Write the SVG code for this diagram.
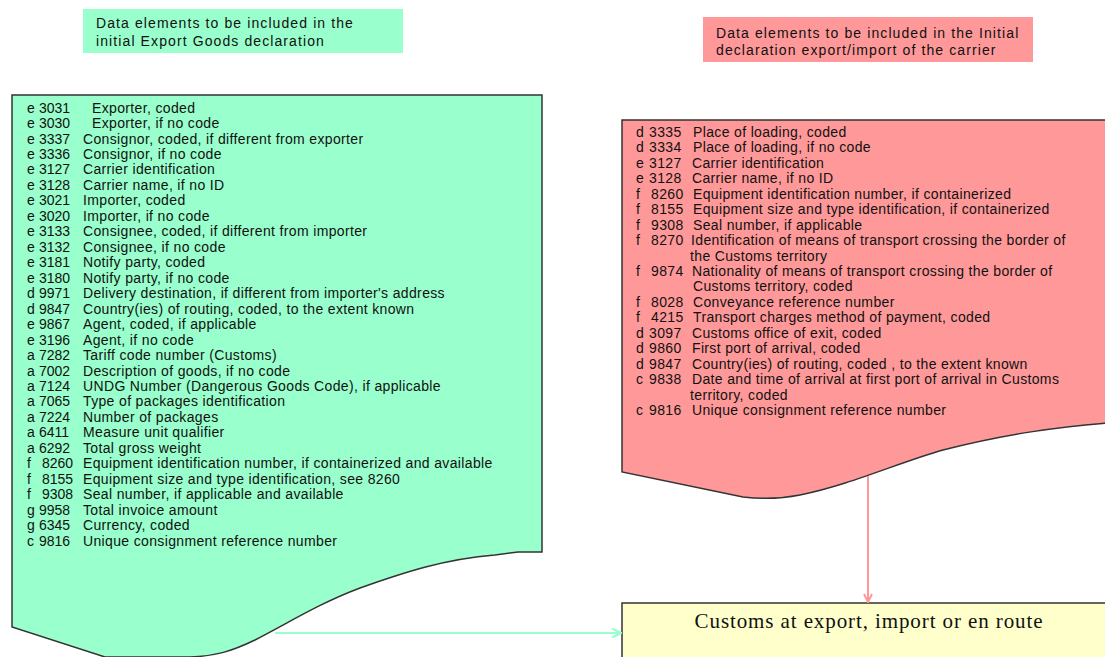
<svg xmlns="http://www.w3.org/2000/svg" width="1105" height="657" viewBox="0 0 1105 657">
  <style>
    .head { font-family: "Liberation Sans", Arial, sans-serif; font-size: 14px; letter-spacing: 1.1px; fill: #111; }
    .item { font-family: "Liberation Sans", Arial, sans-serif; font-size: 14px; letter-spacing: 0.35px; fill: #111; }
    .num { letter-spacing: 0; }
    .doc { stroke: #333; stroke-width: 1.5; }
    .green { fill: #99ffcc; }
    .pink { fill: #ff9999; }
    .title { font-family: "Liberation Serif", "Times New Roman", serif; font-size: 21px; letter-spacing: 0.9px; fill: #111; }
  </style>
  <defs>
    <marker id="headGreen" viewBox="0 0 10 10" refX="9" refY="5" markerWidth="11" markerHeight="11" markerUnits="userSpaceOnUse" orient="auto">
      <path d="M1,1 L9,5 L1,9" fill="none" stroke="#99ffcc" stroke-width="2"/>
    </marker>
    <marker id="headPink" viewBox="0 0 10 10" refX="9" refY="5" markerWidth="10" markerHeight="10" markerUnits="userSpaceOnUse" orient="auto">
      <path d="M1,1 L9,5 L1,9" fill="none" stroke="#ff9999" stroke-width="2"/>
    </marker>
  </defs>
  <rect width="1105" height="657" fill="#ffffff"/>

  <!-- caption: export goods declaration -->
  <g id="caption-export">
    <rect x="83" y="9" width="320" height="44" class="green"/>
    <text class="head" x="96" y="28">Data elements to be included in the</text>
    <text class="head" x="96" y="46">initial Export Goods declaration</text>
  </g>

  <!-- caption: carrier declaration -->
  <g id="caption-carrier">
    <rect x="703" y="17" width="330" height="45" class="pink"/>
    <text class="head" x="716" y="38">Data elements to be included in the Initial</text>
    <text class="head" x="716" y="55">declaration export/import of  the carrier</text>
  </g>

  <!-- document: export goods declaration data elements -->
  <g id="doc-export">
    <path class="doc green" d="M12,95 H542 V552 L518,552 L495,555 C445,559 405,572 360,588 C320,603 290,622 255,640 C230,652 215,656 190,657 L105,657 L12,627 Z"/>
    <g class="item">
      <text y="112.5"><tspan x="27">e</tspan><tspan class="num" x="39">3031</tspan><tspan x="92">Exporter, coded</tspan></text>
      <text y="128"><tspan x="27">e</tspan><tspan class="num" x="39">3030</tspan><tspan x="92">Exporter, if no code</tspan></text>
      <text y="143.5"><tspan x="27">e</tspan><tspan class="num" x="39">3337</tspan><tspan x="83">Consignor, coded, if different from exporter</tspan></text>
      <text y="159"><tspan x="27">e</tspan><tspan class="num" x="39">3336</tspan><tspan x="83">Consignor, if no code</tspan></text>
      <text y="174.4"><tspan x="27">e</tspan><tspan class="num" x="39">3127</tspan><tspan x="83">Carrier identification</tspan></text>
      <text y="189.9"><tspan x="27">e</tspan><tspan class="num" x="39">3128</tspan><tspan x="83">Carrier name, if no ID</tspan></text>
      <text y="205.3"><tspan x="27">e</tspan><tspan class="num" x="39">3021</tspan><tspan x="83">Importer, coded</tspan></text>
      <text y="220.8"><tspan x="27">e</tspan><tspan class="num" x="39">3020</tspan><tspan x="83">Importer, if no code</tspan></text>
      <text y="236.3"><tspan x="27">e</tspan><tspan class="num" x="39">3133</tspan><tspan x="83">Consignee, coded, if different from importer</tspan></text>
      <text y="251.7"><tspan x="27">e</tspan><tspan class="num" x="39">3132</tspan><tspan x="83">Consignee, if no code</tspan></text>
      <text y="267.2"><tspan x="27">e</tspan><tspan class="num" x="39">3181</tspan><tspan x="83">Notify party, coded</tspan></text>
      <text y="282.7"><tspan x="27">e</tspan><tspan class="num" x="39">3180</tspan><tspan x="83">Notify party, if no code</tspan></text>
      <text y="298.1"><tspan x="27">d</tspan><tspan class="num" x="39">9971</tspan><tspan x="83">Delivery destination, if different from importer's address</tspan></text>
      <text y="313.6"><tspan x="27">d</tspan><tspan class="num" x="39">9847</tspan><tspan x="83">Country(ies) of routing, coded, to the extent known</tspan></text>
      <text y="329.1"><tspan x="27">e</tspan><tspan class="num" x="39">9867</tspan><tspan x="83">Agent, coded, if applicable</tspan></text>
      <text y="344.5"><tspan x="27">e</tspan><tspan class="num" x="39">3196</tspan><tspan x="83">Agent, if no code</tspan></text>
      <text y="360"><tspan x="27">a</tspan><tspan class="num" x="39">7282</tspan><tspan x="83">Tariff code number (Customs)</tspan></text>
      <text y="375.5"><tspan x="27">a</tspan><tspan class="num" x="39">7002</tspan><tspan x="83">Description of goods, if no code</tspan></text>
      <text y="390.9"><tspan x="27">a</tspan><tspan class="num" x="39">7124</tspan><tspan x="83">UNDG Number (Dangerous Goods Code), if applicable</tspan></text>
      <text y="406.4"><tspan x="27">a</tspan><tspan class="num" x="39">7065</tspan><tspan x="83">Type of packages identification</tspan></text>
      <text y="421.9"><tspan x="27">a</tspan><tspan class="num" x="39">7224</tspan><tspan x="83">Number of packages</tspan></text>
      <text y="437.3"><tspan x="27">a</tspan><tspan class="num" x="39">6411</tspan><tspan x="83">Measure unit qualifier</tspan></text>
      <text y="452.8"><tspan x="27">a</tspan><tspan class="num" x="39">6292</tspan><tspan x="83">Total gross weight</tspan></text>
      <text y="468.3"><tspan x="27">f</tspan><tspan class="num" x="42">8260</tspan><tspan x="83">Equipment identification number, if containerized and available</tspan></text>
      <text y="483.7"><tspan x="27">f</tspan><tspan class="num" x="42">8155</tspan><tspan x="83">Equipment size and type identification, see 8260</tspan></text>
      <text y="499.2"><tspan x="27">f</tspan><tspan class="num" x="42">9308</tspan><tspan x="83">Seal number, if applicable and available</tspan></text>
      <text y="514.7"><tspan x="27">g</tspan><tspan class="num" x="39">9958</tspan><tspan x="83">Total invoice amount</tspan></text>
      <text y="530.1"><tspan x="27">g</tspan><tspan class="num" x="39">6345</tspan><tspan x="83">Currency, coded</tspan></text>
      <text y="545.6"><tspan x="27">c</tspan><tspan class="num" x="39">9816</tspan><tspan x="83">Unique consignment reference number</tspan></text>
    </g>
  </g>

  <!-- document: carrier declaration data elements -->
  <g id="doc-carrier">
    <path class="doc pink" d="M622,120 H1108 V423 C1060,427 1010,433 943,450 C900,462 850,485 800,495 C780,499 760,499 743,497 L622,472 Z"/>
    <g class="item">
      <text y="137"><tspan x="636">d</tspan><tspan x="649">3335</tspan><tspan x="693">Place of loading, coded</tspan></text>
      <text y="152.4"><tspan x="636">d</tspan><tspan x="649">3334</tspan><tspan x="693">Place of loading, if no code</tspan></text>
      <text y="167.9"><tspan x="636">e</tspan><tspan x="649">3127</tspan><tspan x="692">Carrier identification</tspan></text>
      <text y="183.3"><tspan x="636">e</tspan><tspan x="649">3128</tspan><tspan x="692">Carrier name, if no ID</tspan></text>
      <text y="198.8"><tspan x="636">f</tspan><tspan x="651">8260</tspan><tspan x="693">Equipment identification number, if containerized</tspan></text>
      <text y="214.2"><tspan x="636">f</tspan><tspan x="651">8155</tspan><tspan x="693">Equipment size and type identification, if containerized</tspan></text>
      <text y="229.6"><tspan x="636">f</tspan><tspan x="651">9308</tspan><tspan x="693">Seal number, if applicable</tspan></text>
      <text y="245.1"><tspan x="636">f</tspan><tspan x="651">8270</tspan><tspan x="691">Identification of means of transport crossing the border of</tspan></text>
      <text y="260.5"><tspan x="690">the Customs territory</tspan></text>
      <text y="276"><tspan x="636">f</tspan><tspan x="651">9874</tspan><tspan x="692">Nationality of means of transport crossing  the border of</tspan></text>
      <text y="291.4"><tspan x="693">Customs territory, coded</tspan></text>
      <text y="306.8"><tspan x="636">f</tspan><tspan x="651">8028</tspan><tspan x="693">Conveyance reference number</tspan></text>
      <text y="322.3"><tspan x="636">f</tspan><tspan x="651">4215</tspan><tspan x="693">Transport charges method of payment, coded</tspan></text>
      <text y="337.7"><tspan x="636">d</tspan><tspan x="649">3097</tspan><tspan x="692">Customs office of exit, coded</tspan></text>
      <text y="353.2"><tspan x="636">d</tspan><tspan x="649">9860</tspan><tspan x="692">First port of arrival, coded</tspan></text>
      <text y="368.6"><tspan x="636">d</tspan><tspan x="649">9847</tspan><tspan x="692">Country(ies) of routing, coded , to the extent known</tspan></text>
      <text y="384"><tspan x="636">c</tspan><tspan x="649">9838</tspan><tspan x="692">Date and time of arrival at first port of arrival in Customs</tspan></text>
      <text y="399.5"><tspan x="690">territory, coded</tspan></text>
      <text y="415"><tspan x="636">c</tspan><tspan x="649">9816</tspan><tspan x="692">Unique consignment reference number</tspan></text>
    </g>
  </g>

  <!-- target: customs -->
  <g id="customs">
    <rect x="622" y="603" width="500" height="70" fill="#ffffcc" stroke="#333" stroke-width="1.5"/>
    <text class="title" x="869" y="628" text-anchor="middle">Customs at export, import or en route</text>
  </g>

  <!-- connectors -->
  <g id="connectors" fill="none" stroke-width="2">
    <line x1="275" y1="633" x2="621" y2="633" stroke="#99ffcc" marker-end="url(#headGreen)"/>
    <line x1="868" y1="476" x2="868" y2="602" stroke="#ff9999" marker-end="url(#headPink)"/>
  </g>
</svg>
